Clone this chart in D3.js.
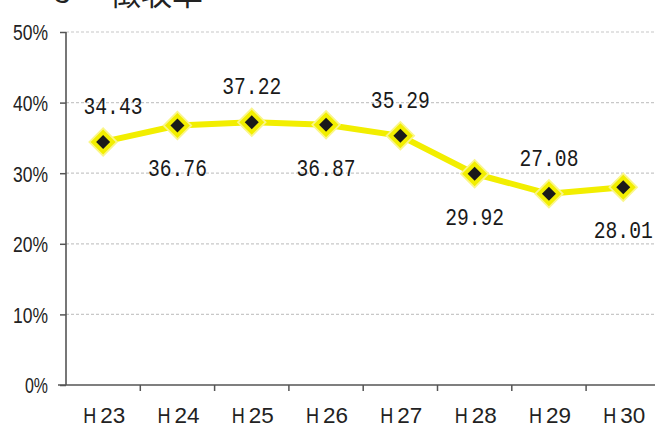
<!DOCTYPE html>
<html><head><meta charset="utf-8">
<script src="https://cdn.jsdelivr.net/npm/d3@7"></script>
<style>html,body{margin:0;padding:0;background:#fff;overflow:hidden}</style>
</head><body>
<svg id="c" width="655" height="428"></svg>
<script>
const categories = ["H23","H24","H25","H26","H27","H28","H29","H30"];
const values = [34.43, 36.76, 37.22, 36.87, 35.29, 29.92, 27.08, 28.01];
const labelPos = ["above","below","above","below","above","below","above","below"];
const yTicks = [0,10,20,30,40,50];
const titleNum = "3";
const titleText = "徴収率";

(function(){
const svg = d3.select("#c");
const mLeft = 66, mBottom = 385, mTop = 32, bandW = 74.3;
const x = d3.scaleBand().domain(categories).range([mLeft, mLeft + bandW*categories.length]).padding(0);
const y = d3.scaleLinear().domain([0,50]).range([mBottom, mTop]);

// title (clipped at the top)
svg.append("text").attr("x",54).attr("y",3).attr("font-family","Liberation Sans, Arial").attr("font-size",30).attr("fill","#222").text(titleNum);
svg.append("text").attr("x",110).attr("y",5).attr("font-family","Noto Sans CJK JP").attr("font-size",31).attr("fill","#222").text(titleText);

// grid
svg.append("g").selectAll("line").data(yTicks.filter(d=>d>0)).join("line")
  .attr("x1",mLeft).attr("x2",655).attr("y1",d=>y(d)).attr("y2",d=>y(d))
  .attr("stroke","#c8c8c8").attr("stroke-width",1.2).attr("stroke-dasharray","3,2");

// y axis
const ya = svg.append("g").attr("transform",`translate(${mLeft},0)`)
  .call(d3.axisLeft(y).tickValues(yTicks).tickFormat(d=>d+"%").tickSize(6).tickPadding(0));
ya.select(".domain").remove();
ya.selectAll(".tick line").attr("stroke","#555").attr("stroke-width",1.5);
ya.selectAll(".tick text").attr("x",-18).attr("dy","0.36em").attr("font-family","Liberation Sans, Arial")
  .attr("font-size",22).attr("fill","#222").attr("textLength",d=>d===0?23:35).attr("lengthAdjust","spacingAndGlyphs");
svg.append("line").attr("x1",mLeft).attr("x2",mLeft).attr("y1",mTop).attr("y2",mBottom).attr("stroke","#555").attr("stroke-width",1.6);

// x axis
svg.append("line").attr("x1",58).attr("x2",655).attr("y1",mBottom).attr("y2",mBottom).attr("stroke","#555").attr("stroke-width",1.6);
svg.append("g").selectAll("line").data(categories.slice(1)).join("line")
  .attr("x1",d=>x(d)).attr("x2",d=>x(d)).attr("y1",mBottom).attr("y2",mBottom+6)
  .attr("stroke","#555").attr("stroke-width",1.5);
const xl = svg.append("g").selectAll("text").data(categories).join("text")
  .attr("x",d=>x(d)+x.bandwidth()/2 - 20).attr("y",423)
  .attr("font-family","Liberation Sans, Arial").attr("font-size",22).attr("fill","#222");
xl.append("tspan").text(d=>d.slice(0,1)).attr("textLength",13).attr("lengthAdjust","spacingAndGlyphs");
xl.append("tspan").attr("dx",4).text(d=>d.slice(1)).attr("textLength",25).attr("lengthAdjust","spacingAndGlyphs");

// line
const cx = d=>x(d)+x.bandwidth()/2;
const data = categories.map((c,i)=>({c, v: values[i], pos: labelPos[i]}));
svg.append("path").datum(data)
  .attr("d", d3.line().x(d=>cx(d.c)).y(d=>y(d.v)))
  .attr("fill","none").attr("stroke","#f2ee00").attr("stroke-width",6).attr("stroke-linejoin","round");

const diamond = s => `M0,${-s}L${s},0L0,${s}L${-s},0Z`;
const m = svg.append("g").selectAll("g").data(data).join("g")
  .attr("transform",d=>`translate(${cx(d.c)},${y(d.v)})`);
m.append("path").attr("d",diamond(15)).attr("fill","#faf68a");
m.append("path").attr("d",diamond(12.5)).attr("fill","#f2ee00");
m.append("path").attr("d",diamond(7)).attr("fill","#1a1a1a");

// labels
svg.append("g").selectAll("text").data(data).join("text")
  .attr("x",d=>Math.max(cx(d.c), 113))
  .attr("y",d=>y(d.v) + (d.pos==="above" ? -28 : 51))
  .attr("text-anchor","middle")
  .attr("font-family","Liberation Mono, DejaVu Sans Mono, monospace")
  .attr("font-size",24).attr("fill","#1a1a1a")
  .attr("textLength",59).attr("lengthAdjust","spacingAndGlyphs")
  .text(d=>d.v.toFixed(2));
})();
</script>
</body></html>
